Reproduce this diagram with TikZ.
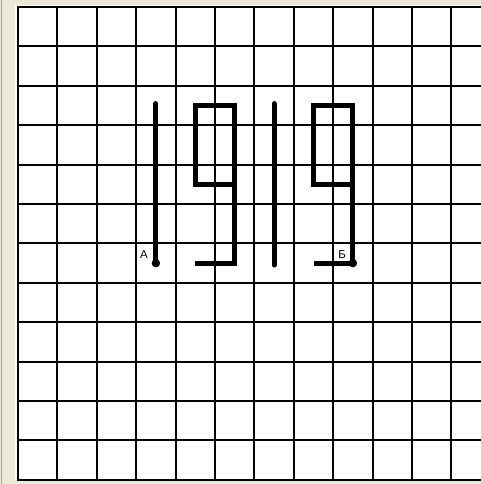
\documentclass[tikz,border=0pt]{standalone}
\usepackage{fontspec}
\newfontfamily\lblfont{Liberation Sans}
\definecolor{framebg}{RGB}{236,233,216}
\definecolor{frameline}{RGB}{172,168,153}
\tikzset{
  gridline/.style={line width=2pt, black},
  digit/.style={line width=5pt, black, line cap=round, line join=miter},
  dotpt/.style={circle, fill=black, inner sep=0pt, minimum size=8.5pt},
  lbl/.style={font=\lblfont\fontsize{11.5}{13}\selectfont, inner sep=0pt}
}
\begin{document}
\begin{tikzpicture}[x=1pt,y=-1pt]
\useasboundingbox (0,0) rectangle (481,484);
\fill[framebg] (0,0) rectangle (481,484);
\draw[frameline, line width=1.2pt] (1.5,0) -- (1.5,484);
\fill[white] (15,5) rectangle (481,480);
% grid
\foreach \i in {0,...,11} {
  \draw[gridline] ({18+39.4*\i},7) -- ({18+39.4*\i},479.8);
}
\foreach \j in {0,...,12} {
  \draw[gridline] (17,{7+39.4*\j}) -- (481,{7+39.4*\j});
}
\begin{scope}[shift={(18,7)}, x=39.4pt, y=-39.4pt]
  % digit 1
  \draw[digit] (3.5,2.45) -- (3.5,6.5);
  % digit 9
  \draw[digit, line cap=butt] (5.5,4.5) -- (4.5,4.5) -- (4.5,2.5) -- (5.5,2.5) -- (5.5,6.5) -- (4.5,6.5);
  % digit 1
  \draw[digit] (6.5,2.45) -- (6.5,6.55);
  % digit 9
  \draw[digit, line cap=butt] (8.5,4.5) -- (7.5,4.5) -- (7.5,2.5) -- (8.5,2.5) -- (8.5,6.5) -- (7.5,6.5);
  \node[dotpt] (A) at (3.5,6.5) {};
  \node[dotpt] (B) at (8.5,6.5) {};
  \node[lbl] (Alab) at (3.2,6.28) {А};
  \node[lbl] (Blab) at (8.23,6.28) {Б};
\end{scope}
\end{tikzpicture}
\end{document}
